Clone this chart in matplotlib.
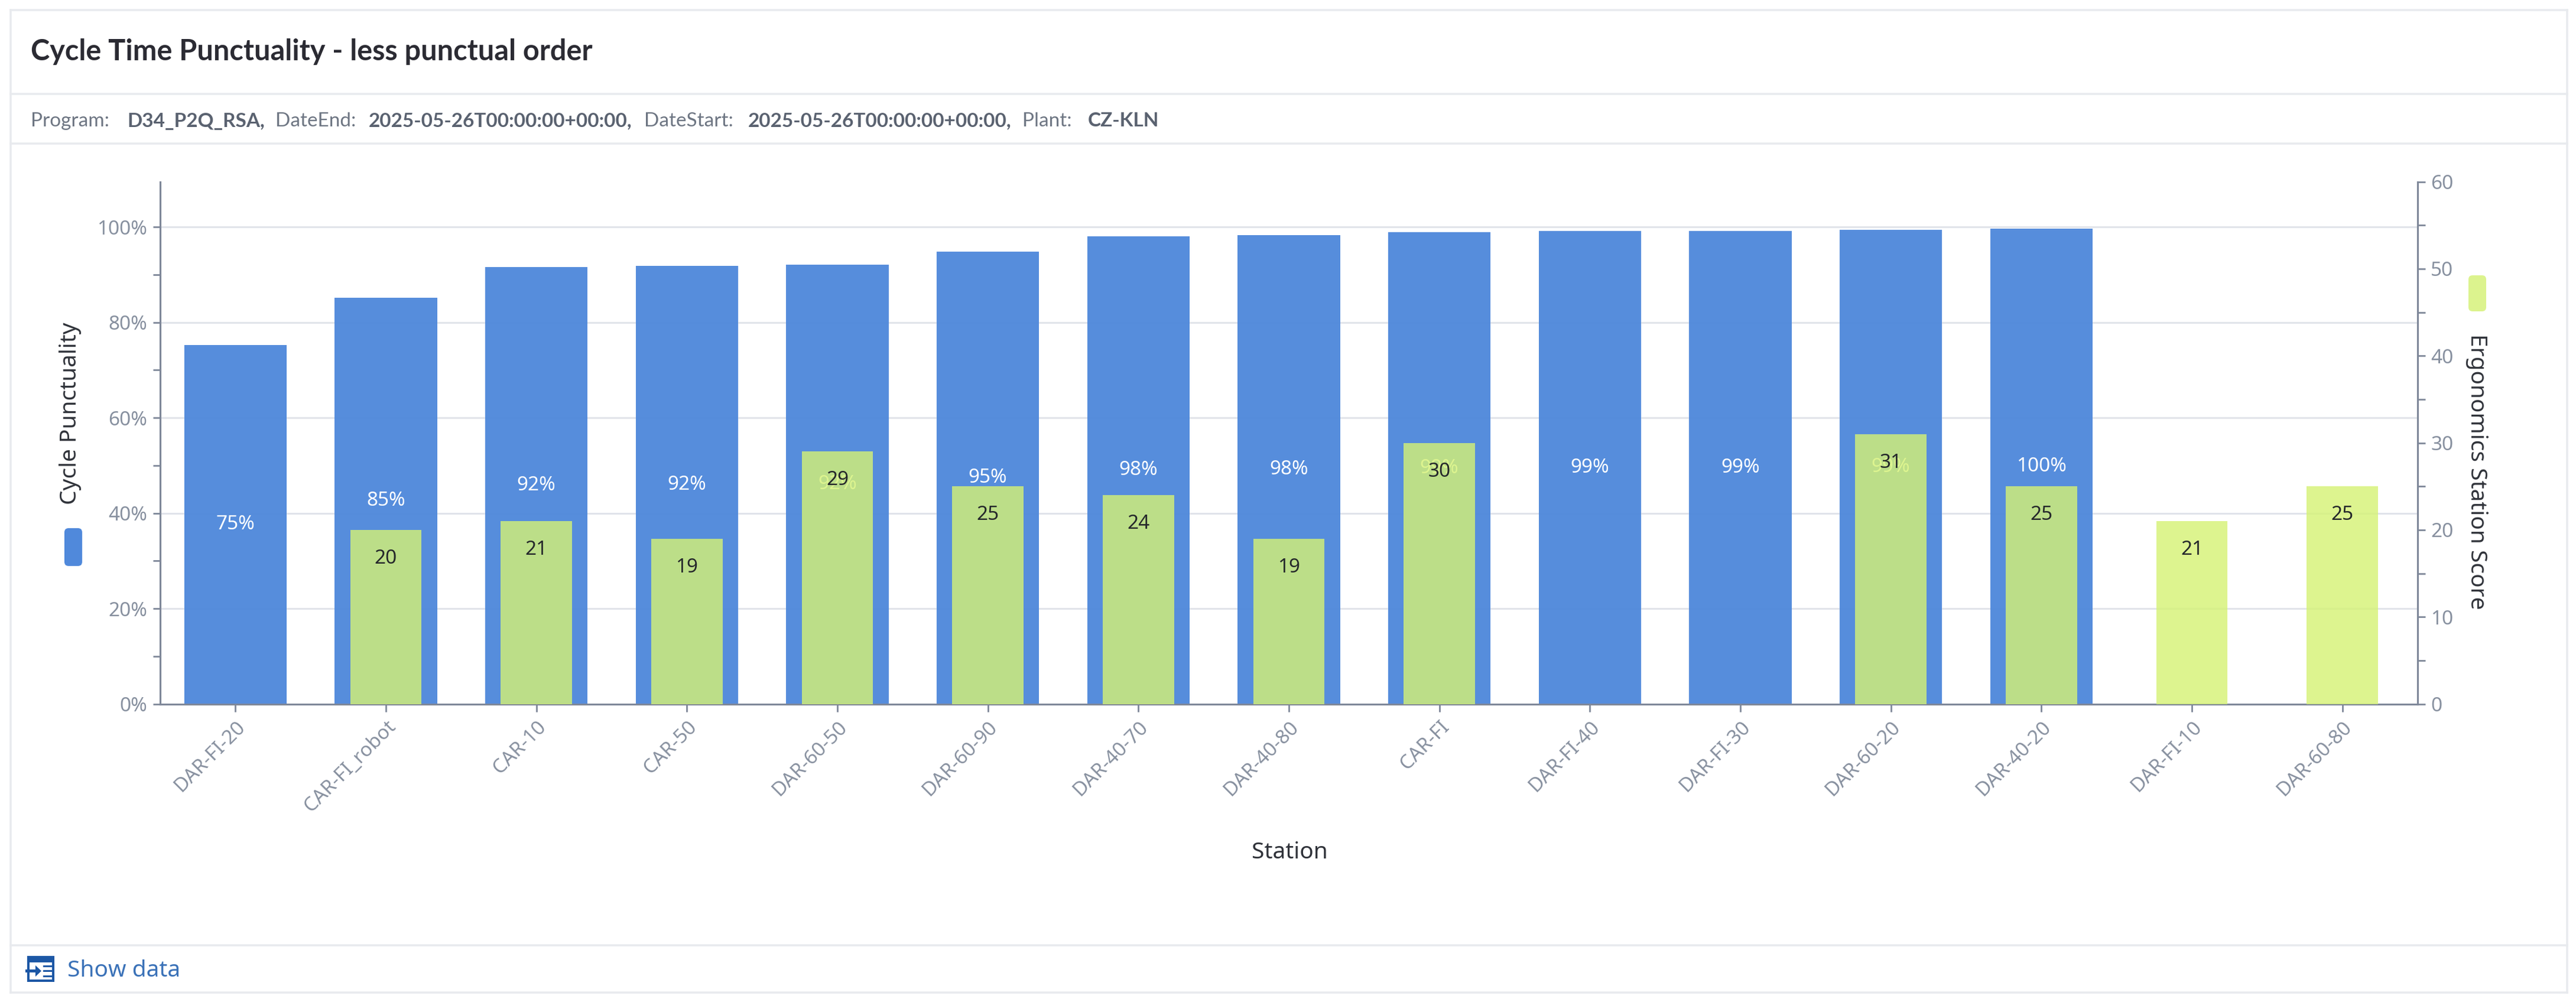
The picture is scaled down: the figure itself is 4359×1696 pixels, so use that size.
import matplotlib
matplotlib.use("Agg")
import matplotlib.pyplot as plt
from matplotlib.patches import FancyBboxPatch, Polygon, Rectangle
from matplotlib.lines import Line2D
from matplotlib.transforms import IdentityTransform

W, H = 4359, 1696

stations = ["DAR-FI-20", "CAR-FI_robot", "CAR-10", "CAR-50", "DAR-60-50", "DAR-60-90", "DAR-40-70",
            "DAR-40-80", "CAR-FI", "DAR-FI-40", "DAR-FI-30", "DAR-60-20", "DAR-40-20", "DAR-FI-10", "DAR-60-80"]
punctuality = [75.2, 85.1, 91.6, 91.8, 92.1, 94.8, 98.1, 98.3, 98.9, 99.2, 99.2, 99.4, 99.7, None, None]
ergonomics = [None, 20, 21, 19, 29, 25, 24, 19, 30, None, None, 31, 25, 21, 25]

BLUE = "#5089DB"
GREEN = "#D5F275"
AXIS = "#7F8899"
TICK_TEXT = "#87909F"
BORDER = "#E8EAEE"
ICON = "#1C57A5"

plt.rcParams["font.family"] = ["Noto Sans", "DejaVu Sans"]

fig = plt.figure(figsize=(W / 100, H / 100), dpi=100, facecolor="white")


def px_text(x, y, s, **kw):
    kw.setdefault("va", "center")
    return fig.text(x / W, 1 - y / H, s, **kw)


def px_line(x0, y0, x1, y1, color=BORDER, lw=3.5):
    fig.add_artist(Line2D([x0 / W, x1 / W], [1 - y0 / H, 1 - y1 / H], color=color, lw=lw * 0.72))


def px_pill(x0, y0, x1, y1, color):
    r = 7
    fig.add_artist(FancyBboxPatch((x0 + r, H - y1 + r), x1 - x0 - 2 * r, y1 - y0 - 2 * r,
                                  boxstyle=f"round,pad={r},rounding_size={r}", fc=color, ec="none",
                                  transform=IdentityTransform()))


def px_rect(x0, y0, x1, y1, color):
    fig.add_artist(Rectangle((x0, H - y1), x1 - x0, y1 - y0, fc=color, ec="none", transform=IdentityTransform()))


# card frame
for seg in [(18, 17, 4344, 17), (18, 159, 4344, 159), (18, 243, 4344, 243), (18, 1600, 4344, 1600), (18, 1680, 4344, 1680),
            (18, 17, 18, 1680), (4344, 17, 4344, 1680)]:
    px_line(*seg)

px_text(52, 88, "Cycle Time Punctuality - less punctual order", fontsize=35, fontweight="bold", color="#2B2B33",
        family=["Lato", "DejaVu Sans"])

sub_parts = [(52, "Program:", False), (215, "D34_P2Q_RSA,", True), (466, "DateEnd:", False),
             (624, "2025-05-26T00:00:00+00:00,", True), (1090, "DateStart:", False),
             (1266, "2025-05-26T00:00:00+00:00,", True), (1730, "Plant:", False), (1841, "CZ-KLN", True)]
for x, s, bold in sub_parts:
    px_text(x, 205, s, fontsize=24, color="#5A6270" if bold else "#6E7683", fontweight="bold" if bold else "normal",
            family=["Lato", "DejaVu Sans"])

# chart
ax = fig.add_axes([271 / W, (H - 1191.5) / H, 3820 / W, 884 / H])
ax2 = ax.twinx()
ax.set_zorder(1)
ax2.set_zorder(2)
ax.patch.set_visible(False)
ax2.patch.set_visible(False)

xs = range(len(stations))
for i in xs:
    if punctuality[i] is not None:
        ax.bar(i, punctuality[i], width=0.68, color=BLUE, alpha=0.97, zorder=3)
        ax.text(i, punctuality[i] / 2, f"{round(punctuality[i])}%", color="white", fontsize=24,
                ha="center", va="center", zorder=4)
    if ergonomics[i] is not None:
        ax2.bar(i, ergonomics[i], width=0.475, color=GREEN, alpha=0.81, zorder=3)
        ax2.annotate(str(ergonomics[i]), (i, ergonomics[i]), xytext=(0, -35), textcoords="offset points",
                     color="#25282B", fontsize=24, ha="center", va="center", zorder=4)

ax.set_xlim(-0.5, 14.5)
ax.set_ylim(0, 109.5)
ax2.set_ylim(0, 60)
ax.set_xticks(list(xs))
ax.set_xticklabels(stations, rotation=45, ha="right", va="top", rotation_mode="anchor", color=TICK_TEXT, fontsize=24)
ax.set_yticks(range(0, 101, 10))
ax.set_yticklabels([f"{v}%" if v % 20 == 0 else "" for v in range(0, 101, 10)], color=TICK_TEXT, fontsize=24)
ax2.set_yticks(range(0, 61, 5))
ax2.set_yticklabels([str(v) if v % 10 == 0 else "" for v in range(0, 61, 5)], color=TICK_TEXT, fontsize=24)
for v in range(20, 101, 20):
    ax.axhline(v, color="#E1E4EA", lw=2.2, zorder=1)

for a in (ax, ax2):
    a.spines["top"].set_visible(False)
    for side in ("left", "right", "bottom"):
        a.spines[side].set_color(AXIS)
        a.spines[side].set_linewidth(2.2)
ax.tick_params(axis="x", length=9, width=2, color=AXIS, pad=7)
ax.tick_params(axis="y", length=9, width=2, color=AXIS, pad=7)
ax2.tick_params(axis="y", length=9, width=2, color=AXIS, pad=7)

# axis titles and legend chips
px_text(119, 700, "Cycle Punctuality", rotation=90, ha="center", fontsize=28, color="#30333A")
px_text(4191, 798, "Ergonomics Station Score", rotation=270, ha="center", fontsize=28, color="#30333A")
px_text(2182, 1443, "Station", ha="center", fontsize=28, color="#30333A")
px_pill(109, 894, 139, 958, BLUE)
px_pill(4177, 466, 4207, 527, "#DCF38E")

# show data footer: framed panel icon with an arrow pointing into it
px_rect(46, 1618, 92, 1662, ICON)
px_rect(50, 1629, 88, 1658, "white")
px_rect(43, 1641, 64, 1646, ICON)
fig.add_artist(Polygon([(60, H - 1634), (60, H - 1653), (70, H - 1643.5)], fc=ICON, ec="none", transform=IdentityTransform()))
for y in (1634, 1642, 1651):
    px_rect(73, y, 88, y + 3, ICON)
px_text(114, 1643, "Show data", fontsize=28, color="#3B72B8")

fig.savefig("out.png", dpi=100)
